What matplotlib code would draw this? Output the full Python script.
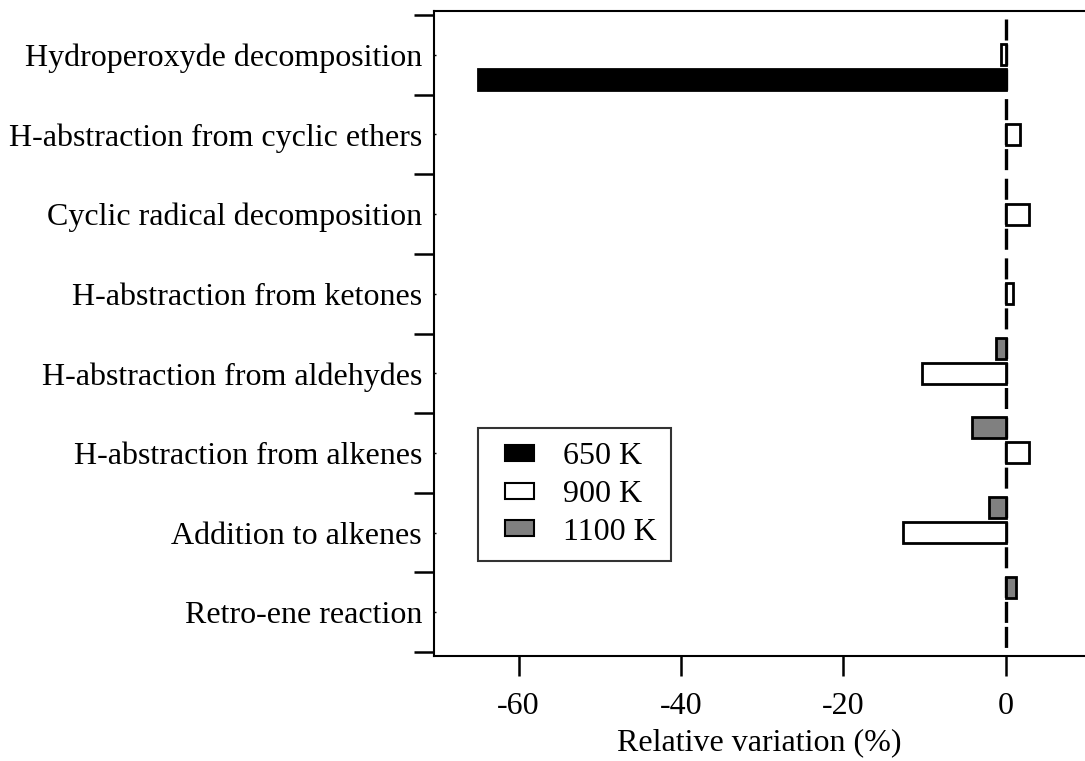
import matplotlib
matplotlib.use('Agg')
import matplotlib.pyplot as plt
from matplotlib.legend_handler import HandlerPatch
import numpy as np

# categories from top to bottom
categories = ['Hydroperoxyde decomposition', 'H-abstraction from cyclic ethers',
              'Cyclic radical decomposition', 'H-abstraction from ketones',
              'H-abstraction from aldehydes', 'H-abstraction from alkenes',
              'Addition to alkenes', 'Retro-ene reaction']
series_labels = ['650 K', '900 K', '1100 K']
# relative variation (%), None = no bar
var_650 = [-65.0, None, None, None, None, None, None, None]
var_900 = [-0.6, 1.8, 2.8, 0.9, -10.3, 2.8, -12.7, None]
var_1100 = [None, None, None, None, -1.2, -4.2, -2.1, 1.3]
xticks = [-60, -40, -20, 0]

plt.rcParams['font.family'] = ['Liberation Serif', 'DejaVu Serif']
plt.rcParams['axes.unicode_minus'] = False
plt.rcParams['lines.scale_dashes'] = False

FS = 23
LW = 1.5
BAR_LW = 2.0
bar_h = 0.264   # bar thickness (category units)
slot = 0.314    # distance between bars of one category

fig = plt.figure(figsize=(10.85, 7.61), dpi=100)
ax = fig.add_axes([0.3997, 0.1386, 0.6003, 0.8469])

y = np.arange(len(categories))
series = [(var_1100, '#808080', -slot), (var_900, 'white', 0.0), (var_650, 'black', slot)]
for vals, color, off in series:
    idx = [i for i, v in enumerate(vals) if v is not None]
    ax.barh(y[idx] + off, [vals[i] for i in idx], height=bar_h, color=color,
            edgecolor='black', linewidth=BAR_LW, zorder=3)

ax.set_ylim(len(categories) - 0.456, -0.55)
ax.set_xlim(-70.45, 9.75)

# dashed zero line, dashes follow the bar slots
ax_h_px = ax.get_position().height * fig.get_figheight() * fig.dpi
pt_per_unit = ax_h_px / (ax.get_ylim()[0] - ax.get_ylim()[1]) * 72.0 / fig.dpi
gap_in = slot - bar_h
gap_out = 1.0 - 2 * slot - bar_h
pattern = [bar_h, gap_in, bar_h, gap_in, bar_h, gap_out]
pattern = [p * pt_per_unit for p in pattern]
ax.plot([0, 0], [-slot - bar_h / 2, y[-1] + slot + bar_h / 2], color='black',
        linewidth=2.4, linestyle=(0, pattern), zorder=2)

ax.spines['right'].set_visible(False)
for s in ['top', 'bottom', 'left']:
    ax.spines[s].set_linewidth(LW)

ax.set_yticks(y)
ax.set_yticklabels(categories, fontsize=FS)
ax.set_yticks(np.arange(len(categories) + 1) - 0.5, minor=True)
ax.tick_params(axis='y', which='major', direction='in', length=1.5, width=1.0, pad=8.4)
ax.tick_params(axis='y', which='minor', direction='out', length=14.4, width=1.8)

ax.set_xticks(xticks)
ax.set_xticklabels([str(t) for t in xticks], fontsize=FS)
ax.tick_params(axis='x', which='major', direction='out', length=14.4, width=1.8, pad=12)
ax.tick_params(top=False, right=False)
ax.set_xlabel('Relative variation (%)', fontsize=FS, labelpad=5)


# legend boxes sit on the right part of the handle area
def legend_box(legend, orig_handle, xdescent, ydescent, width, height, fontsize):
    pw, ph = 20.9, 11.5
    return plt.Rectangle((-xdescent + width - pw, -ydescent + (height - ph) / 2), pw, ph)


handles = [plt.Rectangle((0, 0), 1, 1, facecolor=c, edgecolor='black', linewidth=LW)
           for c in ['black', 'white', '#808080']]
leg = ax.legend(handles, series_labels, loc='upper left', bbox_to_anchor=(0.068, 0.353),
                borderaxespad=0, fontsize=FS, frameon=True, fancybox=False,
                handlelength=1.30, handleheight=0.55, handletextpad=0.91,
                labelspacing=0.27, borderpad=0.45,
                handler_map={plt.Rectangle: HandlerPatch(patch_func=legend_box)})
leg.get_frame().set_edgecolor('black')
leg.get_frame().set_linewidth(LW)

fig.savefig('out.png', dpi=100)
